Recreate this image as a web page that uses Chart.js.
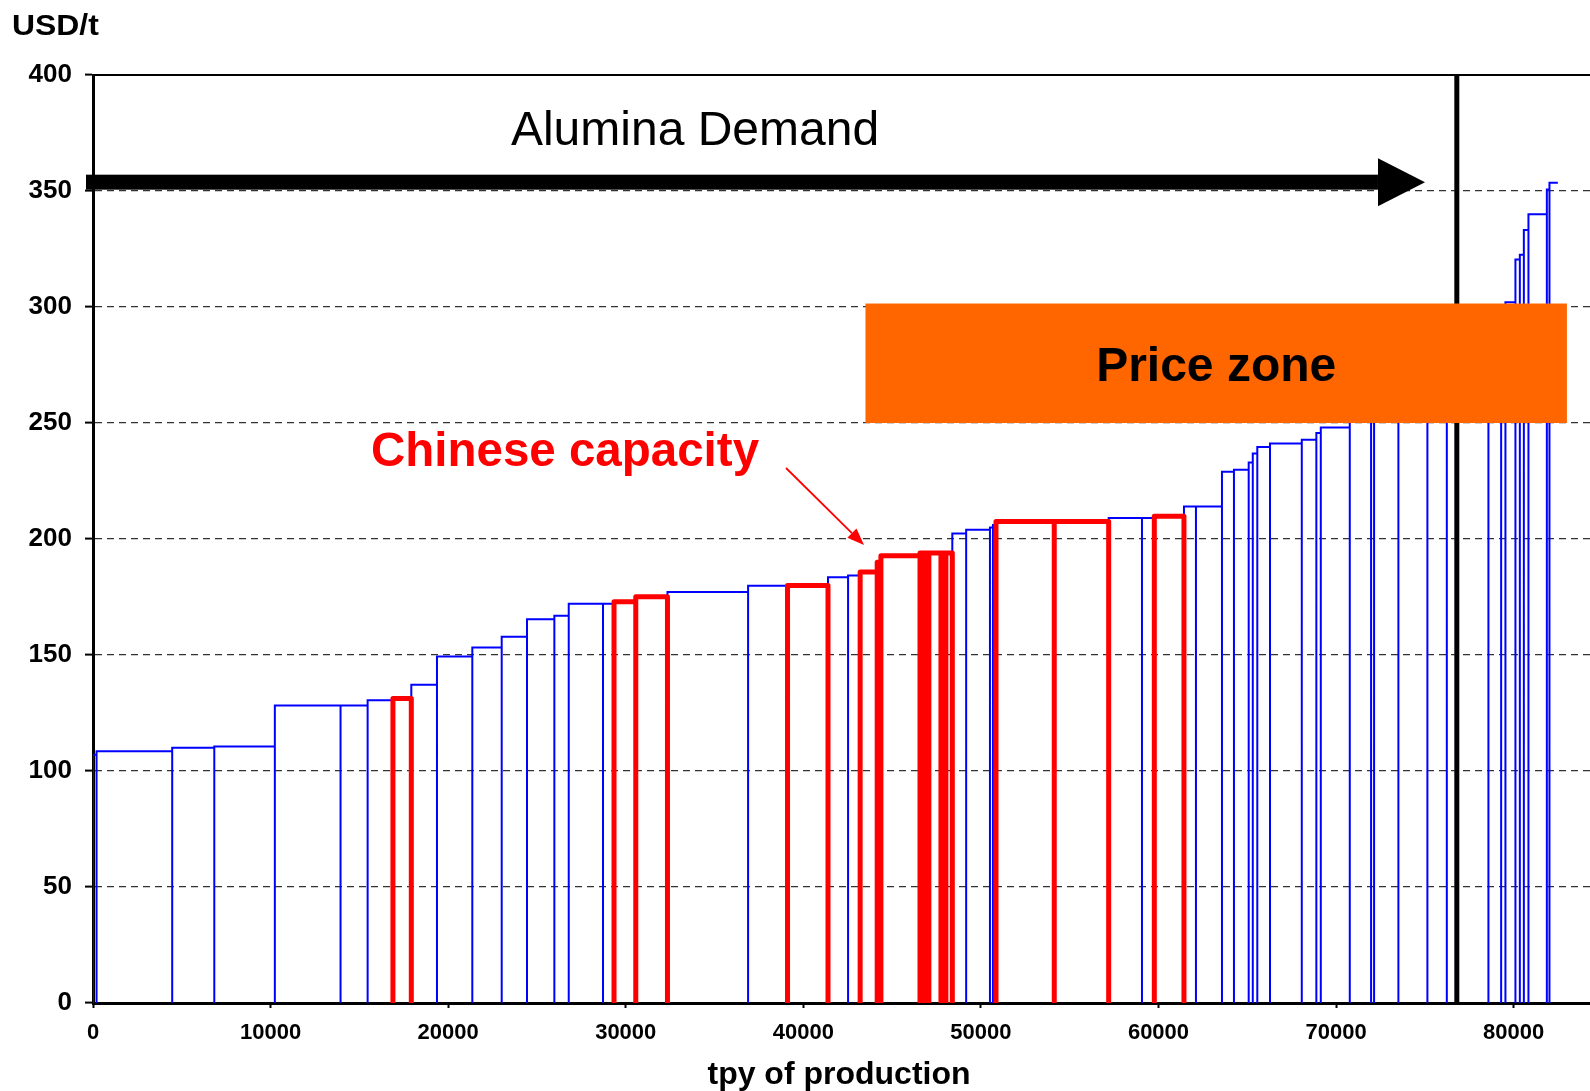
<!DOCTYPE html>
<html>
<head>
<meta charset="utf-8">
<title>Alumina cost curve</title>
<script src="https://cdn.jsdelivr.net/npm/chart.js@4.4.0/dist/chart.umd.min.js"></script>
<style>
  html, body { margin: 0; padding: 0; background: #ffffff; }
  canvas { display: block; }
</style>
</head>
<body>
<canvas id="curve" width="1590" height="1091"></canvas>
<script>
// Refinery capacities (tpy, in merit order) and their cash costs (USD/t)
const capacityTpy = [
  200, 4260, 2370, 3410, 3700, 1525, 1425, 1035, 1445, 1990,
  1655, 1425, 1540, 810, 1930, 620, 1225, 1785, 4540, 2220,
  2280, 1130, 680, 960, 210, 2200, 220, 280, 680, 280,
  360, 780, 1340, 170, 170, 3280, 3065, 1875, 695, 1670,
  675, 1465, 675, 830, 230, 255, 715, 1790, 820, 250,
  1632, 1200, 169, 1369, 1634, 1093, 2343, 716, 242, 563,
  248, 226, 259, 1036, 147, 473
];
const cashCost = [
  107, 108.5, 110, 110.6, 128.2, 128.2, 130.5, 131.3, 137.2, 149.4,
  153.2, 157.9, 165.4, 166.9, 172.1, 172.1, 173, 175.1, 177.2, 179.8,
  180, 183.5, 184.3, 185.8, 190, 192.8, 194, 194, 194, 194,
  194, 202.4, 204, 205, 206, 207.5, 207.5, 209, 209, 209.8,
  214, 214, 229, 229.9, 233, 236.8, 239.7, 241.2, 242.8, 245.7,
  248.1, 252, 255, 260, 268, 275, 285, 292, 298, 302,
  320.5, 322.5, 333.2, 340, 350.7, 353.6
];
// Chinese refineries are outlined in red
const isChinese = [
  0, 0, 0, 0, 0, 0, 0, 1, 0, 0,
  0, 0, 0, 0, 0, 0, 1, 1, 0, 0,
  1, 0, 0, 1, 1, 1, 1, 1, 1, 1,
  1, 0, 0, 0, 0, 1, 1, 0, 0, 1,
  0, 0, 0, 0, 0, 0, 0, 0, 0, 0,
  0, 0, 0, 0, 0, 0, 0, 0, 0, 0,
  0, 0, 0, 0, 0, 0
];

const aluminaDemand = [76800];          // tpy
const priceZoneTpy = [43500, 83000];    // horizontal extent of the band
const priceZoneUsd = [250, 301.5];      // price band, USD/t

const xTicks = [0, 10000, 20000, 30000, 40000, 50000, 60000, 70000, 80000];
const yTicks = [0, 50, 100, 150, 200, 250, 300, 350, 400];

// Build outline paths for the stepped supply curve
const starts = [];
let running = 0;
capacityTpy.forEach(w => { starts.push(running); running += w; });

const allOutline = [];
capacityTpy.forEach((w, i) => {
  const x0 = starts[i], x1 = x0 + w, h = cashCost[i];
  allOutline.push({ x: x0, y: 0 }, { x: x0, y: h }, { x: x1, y: h });
});

const chinaOutline = [];
capacityTpy.forEach((w, i) => {
  if (!isChinese[i]) return;
  const x0 = starts[i], x1 = x0 + w, h = cashCost[i];
  chinaOutline.push({ x: x0, y: 0 }, { x: x0, y: h }, { x: x1, y: h }, { x: x1, y: 0 }, { x: x1, y: null });
});

const demandLine = [{ x: aluminaDemand[0], y: 0 }, { x: aluminaDemand[0], y: 400 }];

const SANS = '"Liberation Sans", Arial, Helvetica, sans-serif';

function drawText(ctx, text, x, y, font, color, sx, align) {
  ctx.save();
  ctx.translate(x, y);
  ctx.scale(sx || 1, 1);
  ctx.font = font;
  ctx.fillStyle = color;
  ctx.textAlign = align || 'center';
  ctx.textBaseline = 'middle';
  ctx.fillText(text, 0, 0);
  ctx.restore();
}

const overlays = {
  id: 'overlays',
  afterDatasetsDraw(chart) {
    const { ctx, chartArea: a, scales: { x, y } } = chart;
    ctx.save();

    // upper frame line
    ctx.strokeStyle = '#000';
    ctx.lineWidth = 2;
    ctx.beginPath();
    ctx.moveTo(a.left, a.top);
    ctx.lineTo(a.right, a.top);
    ctx.stroke();

    // price band
    const bx0 = x.getPixelForValue(priceZoneTpy[0]);
    const bx1 = x.getPixelForValue(priceZoneTpy[1]);
    const by0 = y.getPixelForValue(priceZoneUsd[1]);
    const by1 = y.getPixelForValue(priceZoneUsd[0]);
    ctx.fillStyle = '#FF6600';
    ctx.fillRect(bx0, by0, bx1 - bx0, by1 - by0);
    drawText(ctx, 'Price zone', (bx0 + bx1) / 2, (by0 + by1) / 2 + 5,
      'bold 48px ' + SANS, '#000', 1);

    // demand arrow
    const ay = y.getPixelForValue(353.8);
    const shaftEnd = x.getPixelForValue(72360);
    const tip = x.getPixelForValue(75010);
    ctx.fillStyle = '#000';
    ctx.fillRect(a.left - 7, ay - 7.5, shaftEnd - (a.left - 7), 15);
    ctx.beginPath();
    ctx.moveTo(shaftEnd, ay - 24);
    ctx.lineTo(tip, ay);
    ctx.lineTo(shaftEnd, ay + 24);
    ctx.closePath();
    ctx.fill();
    drawText(ctx, 'Alumina Demand', 695, 132, '48px ' + SANS, '#000', 1);

    // Chinese capacity callout
    drawText(ctx, 'Chinese capacity', 565, 453, 'bold 47.5px ' + SANS, '#FF0000', 1);
    const sx = x.getPixelForValue(39025), sy = y.getPixelForValue(230.6);
    const ex = x.getPixelForValue(43418), ey = y.getPixelForValue(197.4);
    const ang = Math.atan2(ey - sy, ex - sx);
    const headLen = 17, headHalf = 6.5;
    const hx = ex - headLen * Math.cos(ang), hy = ey - headLen * Math.sin(ang);
    ctx.strokeStyle = '#FF0000';
    ctx.lineWidth = 1.8;
    ctx.beginPath();
    ctx.moveTo(sx, sy);
    ctx.lineTo(hx, hy);
    ctx.stroke();
    ctx.fillStyle = '#FF0000';
    ctx.beginPath();
    ctx.moveTo(ex, ey);
    ctx.lineTo(hx - headHalf * Math.sin(ang), hy + headHalf * Math.cos(ang));
    ctx.lineTo(hx + headHalf * Math.sin(ang), hy - headHalf * Math.cos(ang));
    ctx.closePath();
    ctx.fill();

    // axis titles
    drawText(ctx, 'USD/t', 12, 27, 'bold 29px ' + SANS, '#000', 1.1, 'left');
    drawText(ctx, 'tpy of production', 839, 1075, 'bold 32px ' + SANS, '#000', 1);

    ctx.restore();
  }
};

new Chart(document.getElementById('curve'), {
  type: 'scatter',
  data: {
    datasets: [
      {
        label: 'All refineries',
        data: allOutline,
        order: 3,
        showLine: true,
        borderColor: '#0000FF',
        borderWidth: 2,
        pointRadius: 0,
        tension: 0,
        spanGaps: false,
        borderJoinStyle: 'miter'
      },
      {
        label: 'Chinese refineries',
        data: chinaOutline,
        order: 2,
        showLine: true,
        borderColor: '#FF0000',
        borderWidth: 5,
        pointRadius: 0,
        tension: 0,
        spanGaps: false,
        borderJoinStyle: 'round',
        borderCapStyle: 'round'
      },
      {
        label: 'Alumina demand',
        data: demandLine,
        order: 1,
        showLine: true,
        borderColor: '#000000',
        borderWidth: 5,
        pointRadius: 0
      }
    ]
  },
  options: {
    responsive: false,
    animation: false,
    devicePixelRatio: 1,
    layout: { padding: { top: 75, left: 0, right: 0, bottom: 0 } },
    plugins: {
      legend: { display: false },
      tooltip: { enabled: false },
      title: { display: false }
    },
    scales: {
      x: {
        type: 'linear',
        min: 0,
        max: 84300,
        afterFit: s => { s.height = 88; },
        afterBuildTicks: s => { s.ticks = xTicks.map(v => ({ value: v })); },
        ticks: {
          autoSkip: false,
          maxRotation: 0,
          padding: 12,
          color: '#000',
          font: { family: SANS, weight: 'bold', size: 22 },
          callback: v => String(v)
        },
        grid: {
          display: true,
          drawOnChartArea: false,
          drawTicks: true,
          tickLength: 5,
          tickColor: '#000',
          tickWidth: 2
        },
        border: { display: true, color: '#000', width: 3 }
      },
      y: {
        type: 'linear',
        min: 0,
        max: 400,
        afterFit: s => { s.width = 93; },
        afterBuildTicks: s => { s.ticks = yTicks.map(v => ({ value: v })); },
        ticks: {
          autoSkip: false,
          padding: 13,
          color: '#000',
          font: { family: SANS, weight: 'bold', size: 26 },
          callback: v => String(v)
        },
        grid: {
          display: true,
          drawOnChartArea: true,
          drawTicks: true,
          tickLength: 8,
          color: '#333333',
          lineWidth: 1.2,
          tickColor: '#000',
          tickWidth: 2,
          tickBorderDash: []
        },
        border: { display: true, color: '#000', width: 3, dash: [7, 5] }
      }
    }
  },
  plugins: [overlays]
});
</script>
</body>
</html>
